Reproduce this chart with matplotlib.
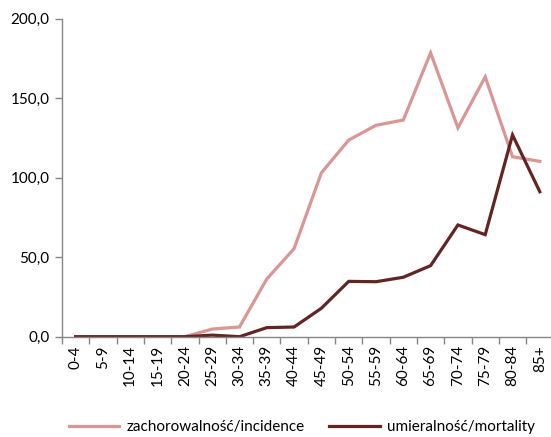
import numpy as np
import matplotlib
matplotlib.use("Agg")
import matplotlib.pyplot as plt
from matplotlib.ticker import FuncFormatter, FixedLocator

# age groups and rates per 100 000
age_groups = ["0-4", "5-9", "10-14", "15-19", "20-24", "25-29", "30-34", "35-39",
              "40-44", "45-49", "50-54", "55-59", "60-64", "65-69", "70-74",
              "75-79", "80-84", "85+"]
incidence = [0.0, 0.0, 0.0, 0.0, 0.0, 4.8, 6.1, 36.3, 55.4, 103.1, 123.7, 133.0,
             136.3, 178.6, 131.4, 163.5, 113.2, 110.3]
mortality = [0.0, 0.0, 0.0, 0.0, 0.0, 1.0, 0.0, 5.7, 6.1, 17.9, 34.8, 34.6,
             37.4, 44.7, 70.3, 64.2, 126.9, 91.2]

plt.rcParams['font.family'] = ['Lato', 'DejaVu Sans']

fig = plt.figure(figsize=(5.51, 4.37), dpi=100)
ax = fig.add_axes([0.1125, 0.2295, 0.892, 0.7275])

x = np.arange(len(age_groups))
ax.plot(x, incidence, color='#D99694', lw=2.3, label='zachorowalność/incidence',
        solid_joinstyle='miter')
ax.plot(x, mortality, color='#632523', lw=2.3, label='umieralność/mortality',
        solid_joinstyle='miter')

ax.set_xlim(-0.5, len(age_groups) - 0.5)
ax.set_ylim(0, 200)
ax.set_yticks([0, 50, 100, 150, 200])
ax.yaxis.set_major_formatter(FuncFormatter(lambda v, p: f"{v:.1f}".replace('.', ',')))

ax.set_xticks(x)
ax.set_xticklabels(age_groups, rotation=90)
ax.xaxis.set_minor_locator(FixedLocator(np.arange(-0.5, len(age_groups), 1)))
ax.tick_params(axis='x', which='major', length=0, pad=6, labelsize=11)
ax.tick_params(axis='x', which='minor', length=5, color='#868686', width=1)
ax.tick_params(axis='y', length=5, color='#868686', width=1, labelsize=11, pad=4)

for s in ['top', 'right']:
    ax.spines[s].set_visible(False)
for s in ['left', 'bottom']:
    ax.spines[s].set_color('#868686')
    ax.spines[s].set_linewidth(1)

fig.legend(loc='lower center', bbox_to_anchor=(0.548, -0.025), ncol=2, frameon=False,
           fontsize=11, handlelength=3.3, columnspacing=1.6, handletextpad=0.5)

fig.savefig("out.png", dpi=100)
